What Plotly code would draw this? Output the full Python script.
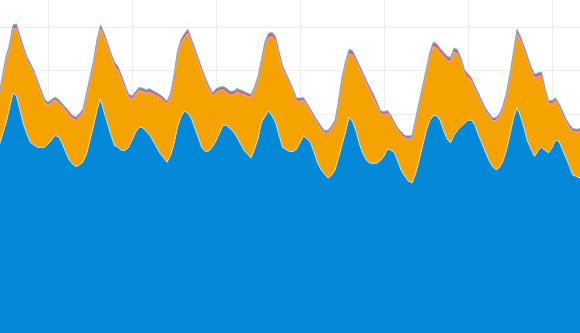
import pandas as pd
import plotly.graph_objects as go

# hourly timestamps
times = pd.date_range("2024-03-03 10:00", periods=167, freq="h")

base_load = [
    43.5, 46.0, 48.8, 52.3, 55.8, 55.1, 51.8, 48.5, 46.2, 44.3, 43.7, 43.2, 43.2, 43.2, 43.9, 44.9,
    45.9, 45.7, 44.2, 42.2, 40.3, 39.3, 38.7, 39.1, 39.8, 41.6, 44.7, 48.1, 51.8, 54.5, 51.4, 48.5,
    46.0, 43.6, 43.2, 42.5, 42.5, 43.1, 44.9, 46.6, 47.9, 47.8, 46.9, 46.1, 44.7, 43.2, 41.8, 40.8,
    39.7, 41.2, 44.0, 47.9, 50.3, 51.6, 51.1, 49.8, 47.6, 45.1, 43.0, 42.2, 42.4, 43.3, 44.7, 46.5,
    48.3, 48.3, 47.6, 46.8, 45.5, 44.0, 42.5, 41.6, 40.7, 42.7, 45.2, 49.0, 50.5, 51.7, 50.5, 49.0,
    46.0, 43.2, 42.7, 42.2, 42.2, 42.7, 44.3, 45.8, 45.2, 44.3, 42.1, 39.6, 38.0, 37.0, 36.0, 36.7,
    37.9, 40.7, 43.4, 46.7, 50.2, 49.2, 47.0, 43.9, 41.7, 40.2, 39.5, 39.5, 39.5, 40.1, 41.1, 42.8,
    42.5, 41.9, 39.9, 37.7, 36.4, 35.3, 34.9, 37.0, 40.0, 43.4, 46.8, 49.3, 50.5, 50.6, 49.5, 47.1,
    45.2, 44.2, 46.0, 47.1, 47.9, 48.7, 49.5, 49.5, 48.3, 46.0, 43.9, 42.2, 40.1, 38.7, 37.9, 38.5,
    40.0, 42.6, 46.6, 49.9, 52.5, 50.4, 47.7, 44.6, 42.8, 41.1, 42.3, 43.2, 42.5, 41.9, 43.1, 44.8,
    44.6, 42.8, 40.7, 38.7, 36.7, 36.4, 36.0,
]

peak_load = [
    11.4, 13.5, 14.7, 14.0, 14.9, 15.8, 16.2, 17.3, 17.2, 17.7, 16.6, 14.9, 12.7, 10.5, 9.1, 8.7,
    8.3, 8.0, 8.5, 9.4, 10.5, 10.6, 10.8, 11.2, 11.6, 13.3, 13.7, 14.4, 15.6, 16.2, 17.5, 18.0,
    18.2, 18.6, 17.8, 16.6, 14.5, 11.8, 9.5, 8.8, 8.5, 8.4, 8.9, 9.9, 10.9, 12.0, 12.9, 13.3,
    13.5, 13.8, 15.2, 16.9, 17.1, 17.1, 18.6, 17.6, 17.5, 17.8, 17.6, 16.3, 14.3, 11.9, 11.3, 9.9,
    8.3, 7.8, 7.8, 8.7, 10.6, 11.7, 13.0, 13.5, 14.1, 13.8, 13.8, 13.8, 16.4, 17.0, 18.5, 19.0,
    18.7, 18.2, 17.0, 15.9, 13.9, 11.3, 9.6, 8.3, 7.7, 7.1, 7.9, 9.1, 9.5, 9.5, 10.5, 10.8,
    10.9, 12.6, 15.4, 15.7, 14.8, 15.5, 16.2, 17.6, 18.0, 17.7, 16.9, 15.3, 13.4, 10.9, 9.7, 8.3,
    7.4, 6.5, 7.1, 8.4, 8.9, 9.9, 10.4, 12.1, 12.9, 13.3, 13.6, 14.8, 16.1, 15.8, 15.8, 17.3,
    18.3, 18.9, 19.4, 17.9, 15.3, 11.7, 9.9, 9.1, 8.5, 9.0, 9.4, 9.4, 10.4, 10.7, 11.5, 11.8,
    12.3, 12.7, 13.0, 14.4, 17.2, 17.6, 18.3, 19.0, 18.4, 18.3, 17.3, 16.7, 13.8, 11.4, 10.2, 9.2,
    8.1, 8.1, 8.4, 9.1, 10.2, 10.3, 10.9,
]

pink_load = [
    0.5, 0.55, 0.6, 0.65, 0.7, 0.7, 0.65, 0.6, 0.55, 0.5, 0.5, 0.45, 0.45, 0.45, 0.4, 0.4,
    0.4, 0.4, 0.45, 0.45, 0.45, 0.5, 0.5, 0.5, 0.5, 0.55, 0.6, 0.6, 0.65, 0.7, 0.7, 0.65,
    0.6, 0.55, 0.8, 0.6, 0.5, 0.45, 0.45, 0.45, 0.45, 0.5, 0.5, 0.55, 0.55, 0.5, 0.5, 0.45,
    0.45, 0.5, 0.55, 0.6, 0.65, 0.7, 0.7, 0.7, 0.65, 0.6, 0.6, 0.55, 0.5, 0.45, 0.5, 0.5,
    0.5, 0.55, 0.55, 0.5, 0.5, 0.5, 0.5, 0.5, 0.45, 0.5, 0.55, 0.6, 0.65, 0.7, 0.7, 0.7,
    0.65, 0.6, 0.55, 0.5, 0.5, 0.45, 0.45, 0.45, 0.45, 0.45, 0.45, 0.45, 0.4, 0.4, 0.4, 0.45,
    0.45, 0.5, 0.55, 0.6, 0.7, 0.7, 0.65, 0.6, 0.6, 0.55, 0.55, 0.5, 0.5, 0.45, 0.45, 0.45,
    0.45, 0.4, 0.4, 0.4, 0.4, 0.4, 0.45, 0.5, 0.5, 0.55, 0.6, 0.65, 0.7, 0.7, 0.65, 0.65,
    0.65, 0.7, 0.65, 0.6, 0.55, 0.55, 0.5, 0.5, 0.5, 0.5, 0.45, 0.45, 0.45, 0.45, 0.45, 0.45,
    0.5, 0.5, 0.55, 0.6, 0.7, 0.7, 0.65, 0.6, 0.6, 0.6, 0.65, 0.6, 0.55, 0.5, 0.5, 0.45,
    0.45, 0.45, 0.45, 0.4, 0.4, 0.4, 0.4,
]

green_load = [
    0.25, 0.25, 0.25, 0.3, 0.3, 0.3, 0.3, 0.25, 0.25, 0.25, 0.25, 0.25, 0.25, 0.3, 0.3, 0.3,
    0.3, 0.3, 0.3, 0.25, 0.25, 0.25, 0.25, 0.25, 0.25, 0.25, 0.25, 0.25, 0.3, 0.3, 0.3, 0.25,
    0.25, 0.25, 0.3, 0.3, 0.3, 0.3, 0.3, 0.3, 0.3, 0.3, 0.3, 0.3, 0.3, 0.25, 0.25, 0.25,
    0.25, 0.25, 0.25, 0.25, 0.3, 0.3, 0.3, 0.25, 0.25, 0.25, 0.25, 0.25, 0.3, 0.3, 0.3, 0.3,
    0.3, 0.3, 0.3, 0.3, 0.3, 0.3, 0.25, 0.25, 0.25, 0.25, 0.25, 0.25, 0.3, 0.3, 0.3, 0.25,
    0.25, 0.25, 0.25, 0.25, 0.25, 0.25, 0.3, 0.3, 0.3, 0.3, 0.3, 0.25, 0.25, 0.25, 0.25, 0.25,
    0.25, 0.25, 0.25, 0.25, 0.3, 0.3, 0.25, 0.25, 0.25, 0.25, 0.25, 0.25, 0.25, 0.25, 0.25, 0.25,
    0.25, 0.25, 0.25, 0.25, 0.25, 0.25, 0.25, 0.25, 0.25, 0.25, 0.25, 0.25, 0.3, 0.3, 0.3, 0.3,
    0.3, 0.3, 0.3, 0.3, 0.25, 0.25, 0.25, 0.25, 0.25, 0.25, 0.25, 0.25, 0.25, 0.25, 0.25, 0.25,
    0.25, 0.25, 0.25, 0.3, 0.3, 0.3, 0.25, 0.25, 0.25, 0.25, 0.25, 0.25, 0.25, 0.25, 0.25, 0.25,
    0.3, 0.3, 0.3, 0.3, 0.3, 0.3, 0.3,
]

series = [
    ("Base", base_load, "#0389d8", "rgba(215,222,232,0.9)", 1),
    ("Peak", peak_load, "#f5a300", "rgba(210,170,230,1)", 1),
    ("Pink", pink_load, "#e5468f", "#e5468f", 0.5),
    ("Green", green_load, "#43c07f", "rgba(110,200,150,0.9)", 0.6),
]

fig = go.Figure()
for name, vals, fill, line, lw in series:
    fig.add_trace(go.Scatter(
        x=times, y=vals, name=name, mode="lines", stackgroup="one",
        fillcolor=fill, line=dict(color=line, width=lw),
    ))

fig.update_layout(
    width=580, height=333,
    margin=dict(l=0, r=0, t=0, b=0),
    paper_bgcolor="white", plot_bgcolor="white",
    showlegend=False,
    xaxis=dict(
        range=["2024-03-03 10:17:09", "2024-03-10 08:00"],
        tick0="2024-03-04", dtick=86400000,
        showgrid=True, gridcolor="#eeeeee", gridwidth=1,
        showticklabels=False, zeroline=False, showline=False, ticks="",
    ),
    yaxis=dict(
        range=[0, 77.44], tick0=0.93, dtick=10,
        showgrid=True, gridcolor="#eeeeee", gridwidth=1,
        showticklabels=False, zeroline=False, showline=False, ticks="",
    ),
)

fig.write_html("out.html")
